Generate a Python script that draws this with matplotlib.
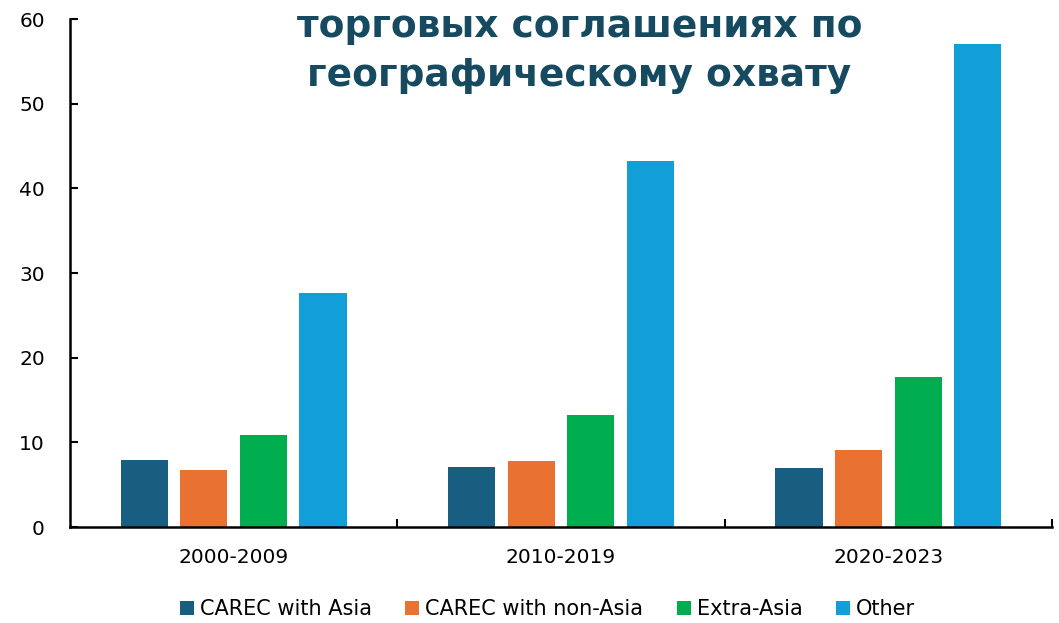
import matplotlib
matplotlib.use('Agg')
import matplotlib.pyplot as plt
import numpy as np

periods = ['2000-2009', '2010-2019', '2020-2023']
series = ['CAREC with Asia', 'CAREC with non-Asia', 'Extra-Asia', 'Other']
carec_asia = [7.9, 7.1, 7.0]
carec_non_asia = [6.7, 7.8, 9.1]
extra_asia = [10.9, 13.2, 17.7]
other = [27.6, 43.2, 57.0]
colors = ['#185e81', '#e97132', '#00ad4f', '#129fd7']
title_lines = ['торговых соглашениях по', 'географическому охвату']

values = [carec_asia, carec_non_asia, extra_asia, other]

fig = plt.figure(figsize=(10.59, 6.23), dpi=100)
ax = fig.add_axes([0.0661, 0.154, 0.9273, 0.8155])

x = np.arange(len(periods))
width = 0.144
step = 0.182
for i, (name, vals) in enumerate(zip(series, values)):
    ax.bar(x + (i - 1.5) * step, vals, width, color=colors[i], label=name)

ax.set_xlim(-0.5, len(periods) - 0.5)
ax.set_ylim(0, 60)
ax.set_yticks(range(0, 61, 10))
ax.tick_params(axis='y', direction='in', length=6, width=1.5, labelsize=14.5, pad=18)

# category labels at centres, tick marks at group boundaries
ax.set_xticks(x)
ax.set_xticklabels(periods, fontsize=14.5)
ax.tick_params(axis='x', which='major', length=0, pad=15)
ax.set_xticks(np.arange(len(periods)) + 0.5, minor=True)
ax.tick_params(axis='x', which='minor', direction='in', length=6, width=1.5)

for s in ['top', 'right']:
    ax.spines[s].set_visible(False)
for s in ['left', 'bottom']:
    ax.spines[s].set_linewidth(1.8)

fig.legend(loc='center', bbox_to_anchor=(0.517, 0.022), ncol=4, frameon=False,
           fontsize=15, handlelength=0.67, handleheight=0.67,
           handletextpad=0.3, columnspacing=1.6)

# title lines (baselines placed separately)
for line, ypix in zip(title_lines, [37, 86]):
    fig.text(0.547, 1 - ypix / 623, line, ha='center', va='baseline',
             fontsize=27, fontweight='bold', color='#164a60', family='DejaVu Sans')

plt.savefig('out.png', dpi=100)
plt.close()
